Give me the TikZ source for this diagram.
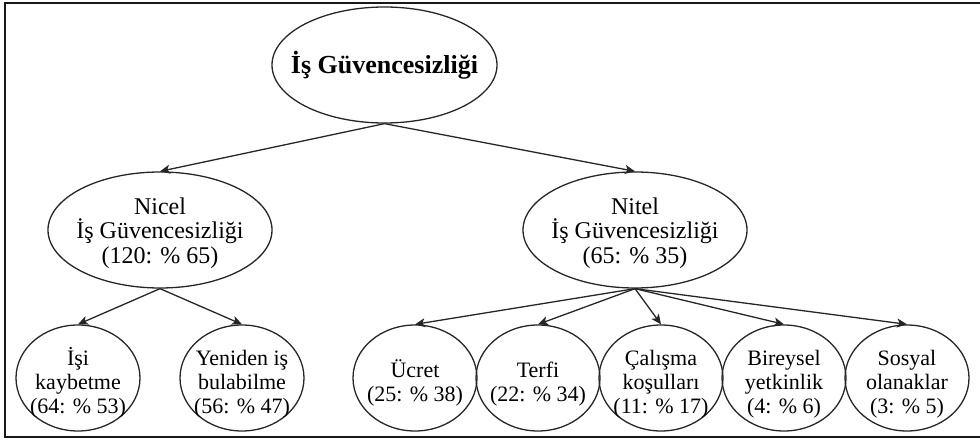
\documentclass[tikz,border=0pt]{standalone}
\usepackage{fontspec}
\setmainfont{Liberation Serif}
\usetikzlibrary{shapes.geometric,arrows.meta}

% invisible struts that set the height of a label's first line
\newcommand\midpad{\rule{0pt}{23pt}}
\newcommand\leafpad{\rule{0pt}{28pt}}

\tikzset{
  oval/.style={draw=black!85, line width=1.3pt, ellipse, inner sep=-25pt,
    align=center, text=black},
  rootoval/.style={oval, minimum width=225pt, minimum height=116pt,
    font=\fontsize{26}{28}\selectfont\bfseries},
  midoval/.style={oval, minimum width=224pt, minimum height=116pt,
    font=\fontsize{24}{24.5}\selectfont},
  leafoval/.style={oval, minimum width=124pt, minimum height=106pt,
    font=\fontsize{22}{24}\selectfont},
  link/.style={draw=black!85, line width=1.3pt,
    -{Stealth[length=10pt,width=9pt,inset=2.5pt]}},
  frameline/.style={draw=black!90, line width=2.6pt}
}

\begin{document}
\begin{tikzpicture}[x=1pt,y=-1pt]
  \useasboundingbox (0,0) rectangle (980,443);

  % outer frame (open on the right)
  \draw[frameline] (980,3) -- (5,3) -- (5,437) -- (980,437);

  % root
  \node[rootoval] (root) at (384.5,65) {İş Güvencesizliği};

  % second level
  \node[midoval] (nicel) at (160,230) {\midpad Nicel\\İş Güvencesizliği\\(120: \% 65)};
  \node[midoval] (nitel) at (635,230) {\midpad Nitel\\İş Güvencesizliği\\(65: \% 35)};

  % leaves under Nicel
  \node[leafoval] (isi)  at (78,378)  {\leafpad İşi\\kaybetme\\(64: \% 53)};
  \node[leafoval] (yeni) at (242,378) {\leafpad Yeniden iş\\bulabilme\\(56: \% 47)};

  % leaves under Nitel
  \node[leafoval] (ucret)    at (415,378) {\leafpad Ücret\\(25: \% 38)};
  \node[leafoval] (terfi)    at (538,378) {\leafpad Terfi\\(22: \% 34)};
  \node[leafoval] (calisma)  at (661,378) {\leafpad Çalışma\\koşulları\\(11: \% 17)};
  \node[leafoval] (bireysel) at (784,378) {\leafpad Bireysel\\yetkinlik\\(4: \% 6)};
  \node[leafoval] (sosyal)   at (907,378) {\leafpad Sosyal\\olanaklar\\(3: \% 5)};

  % connectors
  \draw[link] (root.south) -- (nicel.north);
  \draw[link] (root.south) -- (nitel.north);
  \draw[link] (nicel.south) -- (isi.north);
  \draw[link] (nicel.south) -- (yeni.north);
  \draw[link] (nitel.south) -- (ucret.north);
  \draw[link] (nitel.south) -- (terfi.north);
  \draw[link] (nitel.south) -- (calisma.north);
  \draw[link] (nitel.south) -- (bireysel.north);
  \draw[link] (nitel.south) -- (sosyal.north);
\end{tikzpicture}
\end{document}
